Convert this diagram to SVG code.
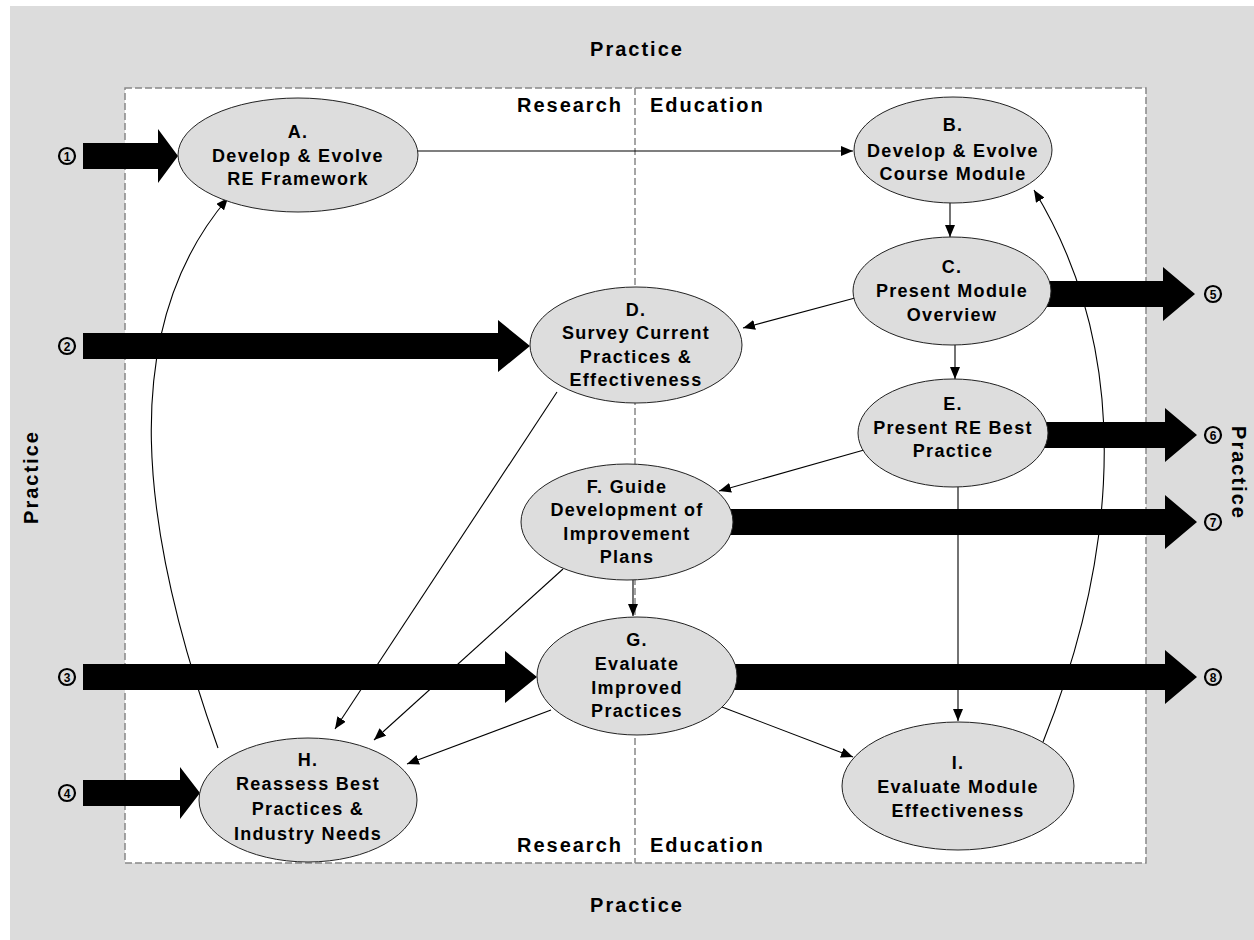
<svg xmlns="http://www.w3.org/2000/svg" width="1254" height="940" viewBox="0 0 1254 940">
<style>
.bg{fill:#dcdcdc}
.frame{fill:#ffffff;stroke:#888888;stroke-width:1.5;stroke-dasharray:7 3}
.div{stroke:#888888;stroke-width:1.5;stroke-dasharray:7 3;fill:none}
.lbl{font-family:"Liberation Sans",Arial,sans-serif;font-weight:bold;font-size:20px;letter-spacing:2px;fill:#000}
.node ellipse{fill:#dddddd;stroke:#222222;stroke-width:1}
.node text{font-family:"Liberation Sans",Arial,sans-serif;font-weight:bold;font-size:18px;letter-spacing:1.3px;fill:#000;text-anchor:middle}
.big{fill:#000}
.conn{stroke:#000;stroke-width:1.1;fill:none;marker-end:url(#ah)}
.num circle{fill:none;stroke:#000;stroke-width:2.2}
.num text{font-family:"Liberation Sans",Arial,sans-serif;font-weight:bold;font-size:12px;text-anchor:middle;fill:#000}
</style>
<defs>
<marker id="ah" markerUnits="userSpaceOnUse" markerWidth="13" markerHeight="10" refX="12" refY="5" orient="auto">
<path d="M0,0 L12,5 L0,10 z" fill="#000"/>
</marker>
</defs>
<rect x="10" y="6" width="1244" height="934" class="bg"/>
<rect x="125" y="88" width="1021" height="775" class="frame"/>
<line x1="635" y1="88" x2="635" y2="863" class="div"/>
<text class="lbl" x="637" y="56" text-anchor="middle">Practice</text>
<text class="lbl" x="637" y="912" text-anchor="middle">Practice</text>
<text class="lbl" transform="translate(38,477) rotate(-90)" text-anchor="middle">Practice</text>
<text class="lbl" transform="translate(1232,473) rotate(90)" text-anchor="middle">Practice</text>
<text class="lbl" x="623" y="112" text-anchor="end">Research</text>
<text class="lbl" x="650" y="112">Education</text>
<text class="lbl" x="623" y="852" text-anchor="end">Research</text>
<text class="lbl" x="650" y="852">Education</text>
<g id="thick-arrows">
<polygon class="big" points="83,143 158,143 158,129 178,156 158,183 158,169 83,169"/>
<polygon class="big" points="83,333 498,333 498,320 530,346 498,372 498,359 83,359"/>
<polygon class="big" points="83,664 505,664 505,651 537,677 505,703 505,690 83,690"/>
<polygon class="big" points="83,780 180,780 180,767 200,793 180,819 180,806 83,806"/>
<polygon class="big" points="1040,281 1163,281 1163,267 1195,294 1163,321 1163,307 1040,307"/>
<polygon class="big" points="1040,422 1165,422 1165,408 1197,435 1165,462 1165,448 1040,448"/>
<polygon class="big" points="725,509 1165,509 1165,495 1197,522 1165,549 1165,535 725,535"/>
<polygon class="big" points="730,664 1165,664 1165,650 1197,677 1165,704 1165,690 730,690"/>
</g>
<g id="numbers" class="num">
<circle cx="67" cy="156" r="8"/><text x="67" y="160.5">1</text>
<circle cx="67" cy="346" r="8"/><text x="67" y="350.5">2</text>
<circle cx="67" cy="677" r="8"/><text x="67" y="681.5">3</text>
<circle cx="67" cy="793" r="8"/><text x="67" y="797.5">4</text>
<circle cx="1213" cy="294" r="8"/><text x="1213" y="298.5">5</text>
<circle cx="1213" cy="435" r="8"/><text x="1213" y="439.5">6</text>
<circle cx="1213" cy="522" r="8"/><text x="1213" y="526.5">7</text>
<circle cx="1213" cy="677" r="8"/><text x="1213" y="681.5">8</text>
</g>
<g id="connectors">
<path class="conn" d="M418,151 L853,151"/>
<path class="conn" d="M950,203 L950,237"/>
<path class="conn" d="M855,298 L743,328"/>
<path class="conn" d="M955,345 L955,379"/>
<path class="conn" d="M864,450 L719,491"/>
<path class="conn" d="M557,392 L335,729"/>
<path class="conn" d="M563,569 L374,740"/>
<path class="conn" d="M633,580 L633,616"/>
<path class="conn" d="M551,710 L407,764"/>
<path class="conn" d="M722,707 L853,757"/>
<path class="conn" d="M958,487 L958,721"/>
<path class="conn" d="M218,748 C140,530 115,330 228,198"/>
<path class="conn" d="M1043,742 C1100,600 1150,380 1034,190"/>
</g>
<g id="node-A" class="node"><ellipse cx="298" cy="155" rx="120" ry="57"/>
<text x="298" y="138">A.</text><text x="298" y="162">Develop &amp; Evolve</text><text x="298" y="185">RE Framework</text></g>
<g id="node-B" class="node"><ellipse cx="953" cy="150" rx="99" ry="53"/>
<text x="953" y="131">B.</text><text x="953" y="157">Develop &amp; Evolve</text><text x="953" y="180">Course Module</text></g>
<g id="node-C" class="node"><ellipse cx="952" cy="291" rx="99" ry="54"/>
<text x="952" y="273">C.</text><text x="952" y="297">Present Module</text><text x="952" y="321">Overview</text></g>
<g id="node-D" class="node"><ellipse cx="636" cy="345" rx="106" ry="58"/>
<text x="636" y="316">D.</text><text x="636" y="339">Survey Current</text><text x="636" y="363">Practices &amp;</text><text x="636" y="386">Effectiveness</text></g>
<g id="node-E" class="node"><ellipse cx="953" cy="433" rx="95" ry="54"/>
<text x="953" y="410">E.</text><text x="953" y="434">Present RE Best</text><text x="953" y="457">Practice</text></g>
<g id="node-F" class="node"><ellipse cx="627" cy="522" rx="106" ry="58"/>
<text x="627" y="493">F. Guide</text><text x="627" y="516">Development of</text><text x="627" y="540">Improvement</text><text x="627" y="563">Plans</text></g>
<g id="node-G" class="node"><ellipse cx="637" cy="676" rx="100" ry="59"/>
<text x="637" y="646">G.</text><text x="637" y="670">Evaluate</text><text x="637" y="694">Improved</text><text x="637" y="717">Practices</text></g>
<g id="node-H" class="node"><ellipse cx="308" cy="800" rx="109" ry="62"/>
<text x="308" y="766">H.</text><text x="308" y="790">Reassess Best</text><text x="308" y="815">Practices &amp;</text><text x="308" y="840">Industry Needs</text></g>
<g id="node-I" class="node"><ellipse cx="958" cy="786" rx="116" ry="64"/>
<text x="958" y="769">I.</text><text x="958" y="793">Evaluate Module</text><text x="958" y="817">Effectiveness</text></g>
</svg>
